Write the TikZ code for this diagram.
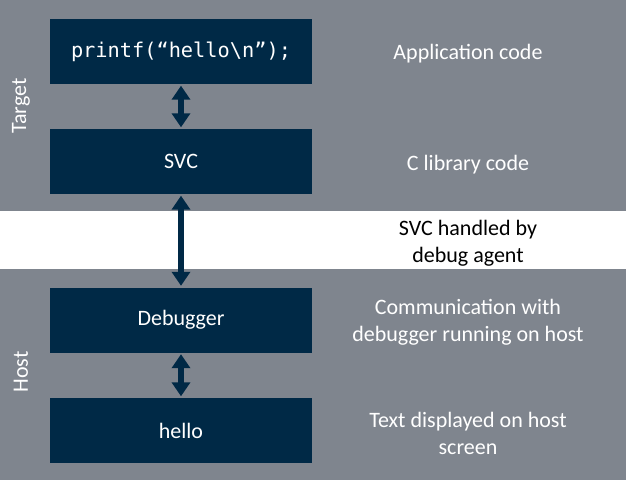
\documentclass[tikz,border=0pt]{standalone}
\usepackage{fontspec}
\setmainfont{Carlito}
\newfontfamily\codefont{DejaVu Sans Mono}
\usetikzlibrary{arrows.meta}
\definecolor{bggray}{RGB}{127,133,142}
\definecolor{navy}{RGB}{0,41,70}
\begin{document}
\begin{tikzpicture}[x=1pt,y=-1pt,
  box/.style={fill=navy,minimum width=262pt,minimum height=65pt,inner sep=0pt,text=white,font=\fontsize{22}{26}\selectfont},
  lbl/.style={text=white,align=center,font=\fontsize{22}{27}\selectfont},
  side/.style={text=white,rotate=90,font=\fontsize{22}{26}\selectfont},
  dbl/.style={draw=navy,line width=6.5pt,{Triangle[width=18pt,length=14pt]}-{Triangle[width=18pt,length=14pt]},shorten <=1.5pt,shorten >=1.5pt}]
\fill[bggray] (0,0) rectangle (626,480);
\useasboundingbox (0,0) rectangle (626,480);
\fill[white] (0,211) rectangle (626,269);
\node[box] (app) at (181,51.5) {\fontsize{20.3}{24}\codefont printf(“hello\textbackslash n”);};
\node[box] (svc) at (181,161.5) {\raisebox{-1.5pt}{SVC}};
\node[box] (dbg) at (181,320) {\raisebox{-1.5pt}{Debugger}};
\node[box] (hello) at (181,430.5) {\raisebox{-1.5pt}{hello}};
\draw[dbl] (app.south) -- (svc.north);
\draw[dbl] (svc.south) -- (dbg.north);
\draw[dbl] (dbg.south) -- (hello.north);
\node[lbl] (l1) at (468,54) {Application code};
\node[lbl] (l2) at (468,165) {C library code};
\node[lbl,text=black] (l3) at (468,243) {SVC handled by\\debug agent};
\node[lbl] (l4) at (468,322) {Communication with\\debugger running on host};
\node[lbl] (l5) at (468,433) {Text displayed on host\\screen};
\node[side] (t) at (21,106) {Target};
\node[side] (h) at (21,372) {Host};
\end{tikzpicture}
\end{document}
